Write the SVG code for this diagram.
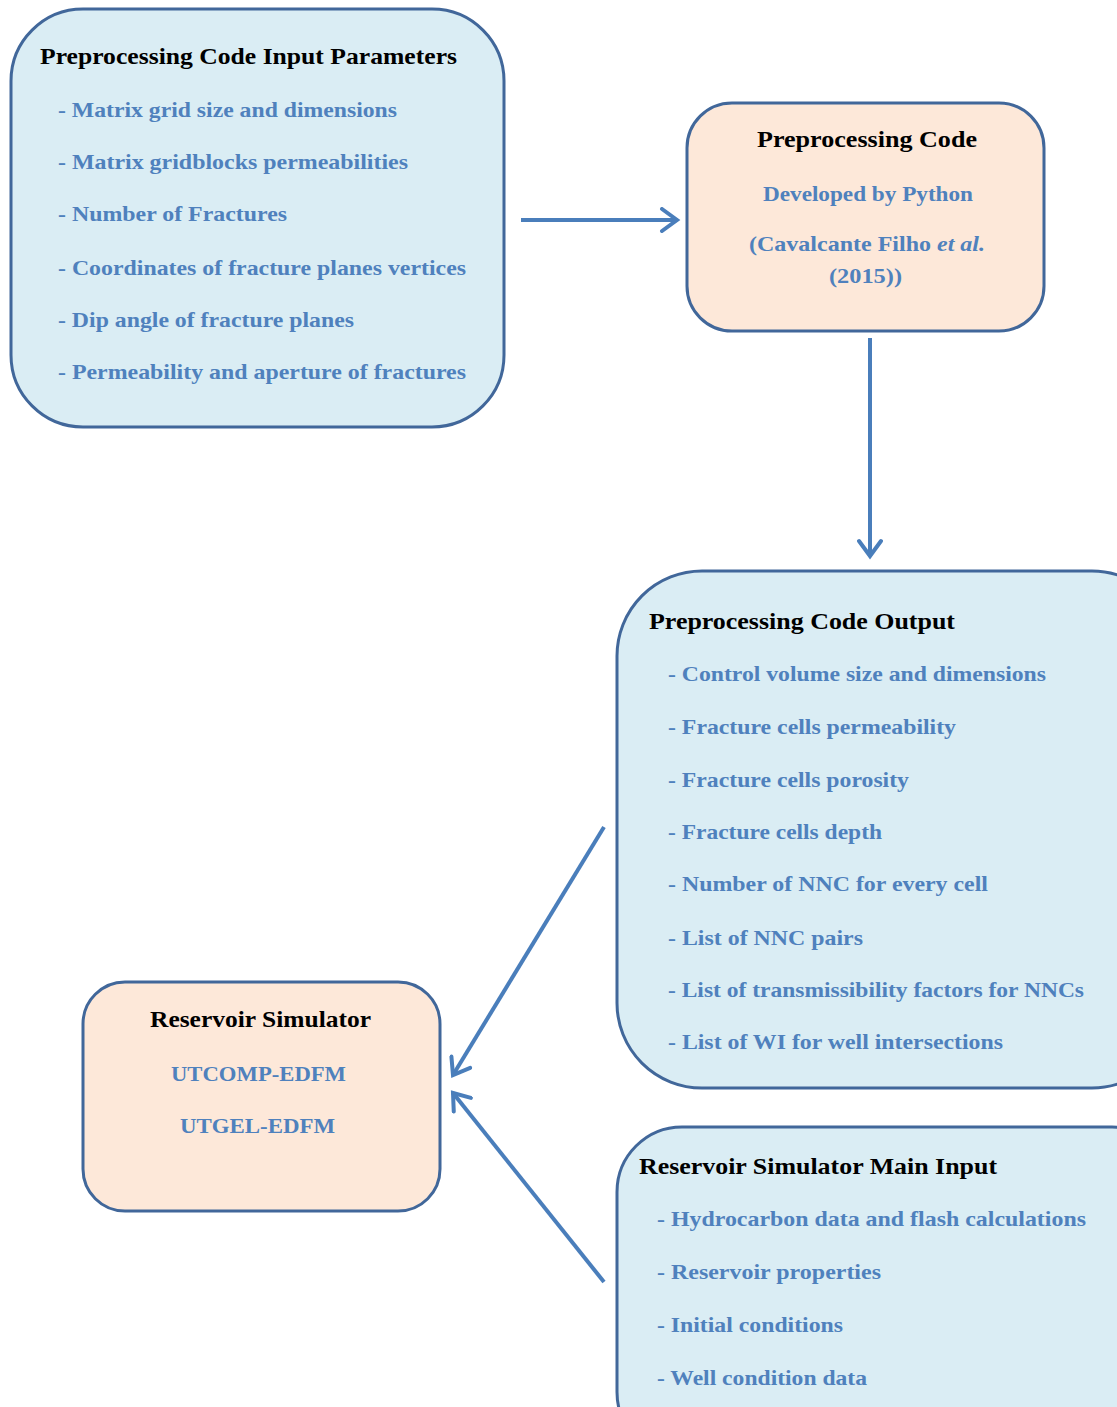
<svg xmlns="http://www.w3.org/2000/svg" width="1117" height="1407" viewBox="0 0 1117 1407">
<defs>
<style>
.blue{fill:#DAEDF4;stroke:#41679A;stroke-width:3}
.peach{fill:#FDE8D9;stroke:#41679A;stroke-width:3}
.title{font-family:"Liberation Serif",serif;font-weight:bold;font-size:23px;fill:#000}
.item{font-family:"Liberation Serif",serif;font-weight:bold;font-size:21px;fill:#4F81BD}
.conn{stroke:#4A7EBB;stroke-width:4;fill:none}
</style>
<marker id="ah" viewBox="0 0 26 26" refX="22" refY="13" markerWidth="26" markerHeight="26" markerUnits="userSpaceOnUse" orient="auto">
<path d="M7,2 L22,13 L7,24" fill="none" stroke="#4A7EBB" stroke-width="4" stroke-linecap="round" stroke-linejoin="miter"/>
</marker>
</defs>
<rect width="1117" height="1407" fill="#fff"/>
<g id="connectors">
<line class="conn" x1="521" y1="220" x2="677" y2="220" marker-end="url(#ah)"/>
<line class="conn" x1="870" y1="338" x2="870" y2="556" marker-end="url(#ah)"/>
<line class="conn" x1="604" y1="827" x2="453" y2="1075" marker-end="url(#ah)"/>
<line class="conn" x1="604" y1="1282" x2="453" y2="1093" marker-end="url(#ah)"/>
</g>
<g id="input-params">
<rect class="blue" x="11" y="9" width="493" height="418" rx="72" ry="72"/>
<text class="title" x="40" y="64" textLength="417" lengthAdjust="spacingAndGlyphs">Preprocessing  Code Input Parameters</text>
<text class="item" x="58" y="117" textLength="339" lengthAdjust="spacingAndGlyphs">- Matrix grid size and dimensions</text>
<text class="item" x="58" y="169" textLength="350" lengthAdjust="spacingAndGlyphs">- Matrix gridblocks permeabilities</text>
<text class="item" x="58" y="221" textLength="229" lengthAdjust="spacingAndGlyphs">- Number of Fractures</text>
<text class="item" x="58" y="275" textLength="408" lengthAdjust="spacingAndGlyphs">- Coordinates of fracture planes vertices</text>
<text class="item" x="58" y="327" textLength="296" lengthAdjust="spacingAndGlyphs">- Dip angle of fracture planes</text>
<text class="item" x="58" y="379" textLength="408" lengthAdjust="spacingAndGlyphs">- Permeability and aperture of fractures</text>
</g>
<g id="preprocessing-code">
<rect class="peach" x="687" y="103" width="357" height="228" rx="45" ry="45"/>
<text class="title" x="757" y="147" textLength="220" lengthAdjust="spacingAndGlyphs">Preprocessing  Code</text>
<text class="item" x="763" y="201" textLength="210" lengthAdjust="spacingAndGlyphs">Developed by Python</text>
<text class="item" x="749" y="251" textLength="236" lengthAdjust="spacingAndGlyphs">(Cavalcante Filho <tspan font-style="italic">et al.</tspan></text>
<text class="item" x="829" y="283" textLength="73" lengthAdjust="spacingAndGlyphs">(2015))</text>
</g>
<g id="code-output">
<rect class="blue" x="617" y="571" width="560" height="517" rx="85" ry="85"/>
<text class="title" x="649" y="629" textLength="306" lengthAdjust="spacingAndGlyphs">Preprocessing  Code Output</text>
<text class="item" x="668" y="681" textLength="378" lengthAdjust="spacingAndGlyphs">- Control volume size and dimensions</text>
<text class="item" x="668" y="734" textLength="288" lengthAdjust="spacingAndGlyphs">- Fracture cells permeability</text>
<text class="item" x="668" y="787" textLength="241" lengthAdjust="spacingAndGlyphs">- Fracture cells porosity</text>
<text class="item" x="668" y="839" textLength="214" lengthAdjust="spacingAndGlyphs">- Fracture cells depth</text>
<text class="item" x="668" y="891" textLength="320" lengthAdjust="spacingAndGlyphs">- Number of NNC  for every cell</text>
<text class="item" x="668" y="945" textLength="195" lengthAdjust="spacingAndGlyphs">- List of NNC  pairs</text>
<text class="item" x="668" y="997" textLength="416" lengthAdjust="spacingAndGlyphs">- List of transmissibility factors for NNCs</text>
<text class="item" x="668" y="1049" textLength="335" lengthAdjust="spacingAndGlyphs">- List of WI  for well intersections</text>
</g>
<g id="reservoir-simulator">
<rect class="peach" x="83" y="982" width="357" height="229" rx="42" ry="42"/>
<text class="title" x="150" y="1027" textLength="221" lengthAdjust="spacingAndGlyphs">Reservoir  Simulator</text>
<text class="item" x="171" y="1081" textLength="175" lengthAdjust="spacingAndGlyphs">UTCOMP-EDFM</text>
<text class="item" x="180" y="1133" textLength="155" lengthAdjust="spacingAndGlyphs">UTGEL-EDFM</text>
</g>
<g id="simulator-main-input">
<rect class="blue" x="617" y="1127" width="560" height="330" rx="65" ry="65"/>
<text class="title" x="639" y="1174" textLength="358" lengthAdjust="spacingAndGlyphs">Reservoir  Simulator Main  Input</text>
<text class="item" x="657" y="1226" textLength="429" lengthAdjust="spacingAndGlyphs">- Hydrocarbon data and  flash calculations</text>
<text class="item" x="657" y="1279" textLength="224" lengthAdjust="spacingAndGlyphs">- Reservoir properties</text>
<text class="item" x="657" y="1332" textLength="186" lengthAdjust="spacingAndGlyphs">- Initial conditions</text>
<text class="item" x="657" y="1385" textLength="210" lengthAdjust="spacingAndGlyphs">- Well condition data</text>
</g>
</svg>
